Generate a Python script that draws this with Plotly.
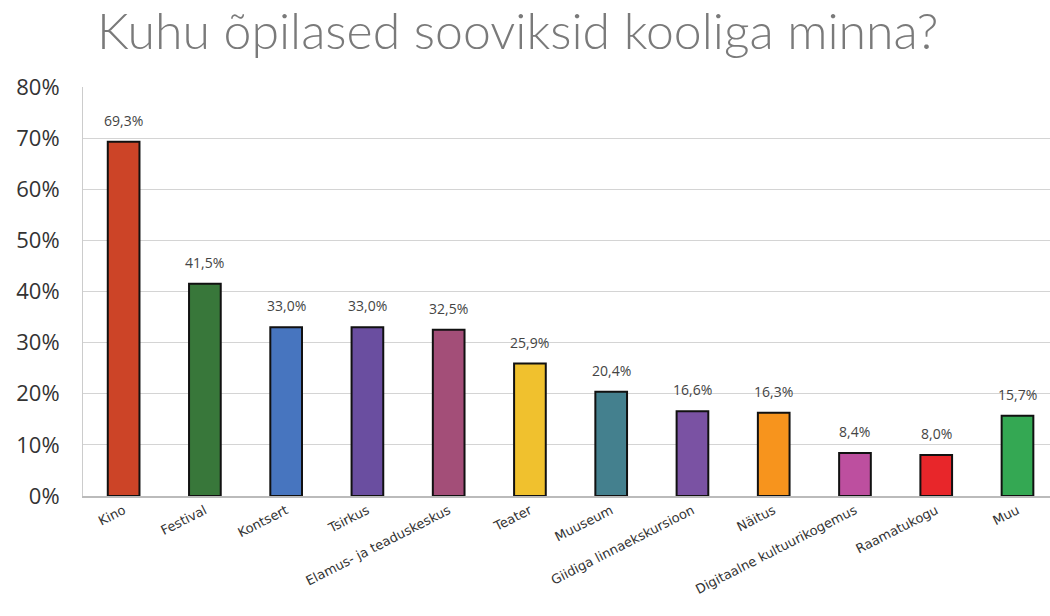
import plotly.graph_objects as go

categories = ["Kino", "Festival", "Kontsert", "Tsirkus", "Elamus- ja teaduskeskus", "Teater",
              "Muuseum", "Giidiga linnaekskursioon", "Näitus", "Digitaalne kultuurikogemus",
              "Raamatukogu", "Muu"]
values = [69.3, 41.5, 33.0, 33.0, 32.5, 25.9, 20.4, 16.6, 16.3, 8.4, 8.0, 15.7]
colors = ["#CC4427", "#38773A", "#4775BF", "#6A4EA0", "#A34E78", "#F0C12E",
          "#44808E", "#7A52A3", "#F7941D", "#BD4F9F", "#E8262A", "#34A853"]
labels = [f"{v:.1f}".replace(".", ",") + "%" for v in values]
ytick_vals = [0, 10, 20, 30, 40, 50, 60, 70, 80]
ytick_text = [f"{v}%" for v in ytick_vals]

fig = go.Figure(go.Bar(
    x=categories, y=values,
    marker=dict(color=colors, line=dict(color="#111111", width=2)),
    width=0.39,
    hoverinfo="x+y",
))

for c, v, t in zip(categories, values, labels):
    fig.add_annotation(x=c, y=v, text=t, showarrow=False, yanchor="bottom", yshift=10,
                       font=dict(family="Open Sans, sans-serif", size=14, color="#444444"))

fig.update_layout(
    width=1050, height=616,
    paper_bgcolor="white", plot_bgcolor="white",
    margin=dict(l=83, r=0, t=87, b=120, autoexpand=False),
    title=dict(text="Kuhu õpilased sooviksid kooliga minna?", x=0.493, xanchor="center",
               y=0.949, yanchor="middle",
               font=dict(family="Lato, sans-serif", size=50, color="#7a7a7a", weight=300)),
    showlegend=False,
)
fig.update_yaxes(range=[0, 80], tickvals=ytick_vals, ticktext=ytick_text,
                 showgrid=True, gridcolor="#d4d4d4", gridwidth=1,
                 showline=True, linecolor="#cccccc", linewidth=1,
                 tickfont=dict(family="Open Sans, sans-serif", size=22, color="#333333"),
                 ticks="", zeroline=False, ticklabelstandoff=18, automargin=False)
fig.update_xaxes(range=[-0.5, 11.4], tickangle=-27,
                 showline=True, linecolor="#bbbbbb", linewidth=2,
                 tickfont=dict(family="DejaVu Sans, sans-serif", size=13, color="#333333"),
                 ticks="", automargin=False)

fig.write_html("out.html", config={"displayModeBar": False},
               post_script="document.body.style.margin='0';document.body.style.overflow='hidden';")
